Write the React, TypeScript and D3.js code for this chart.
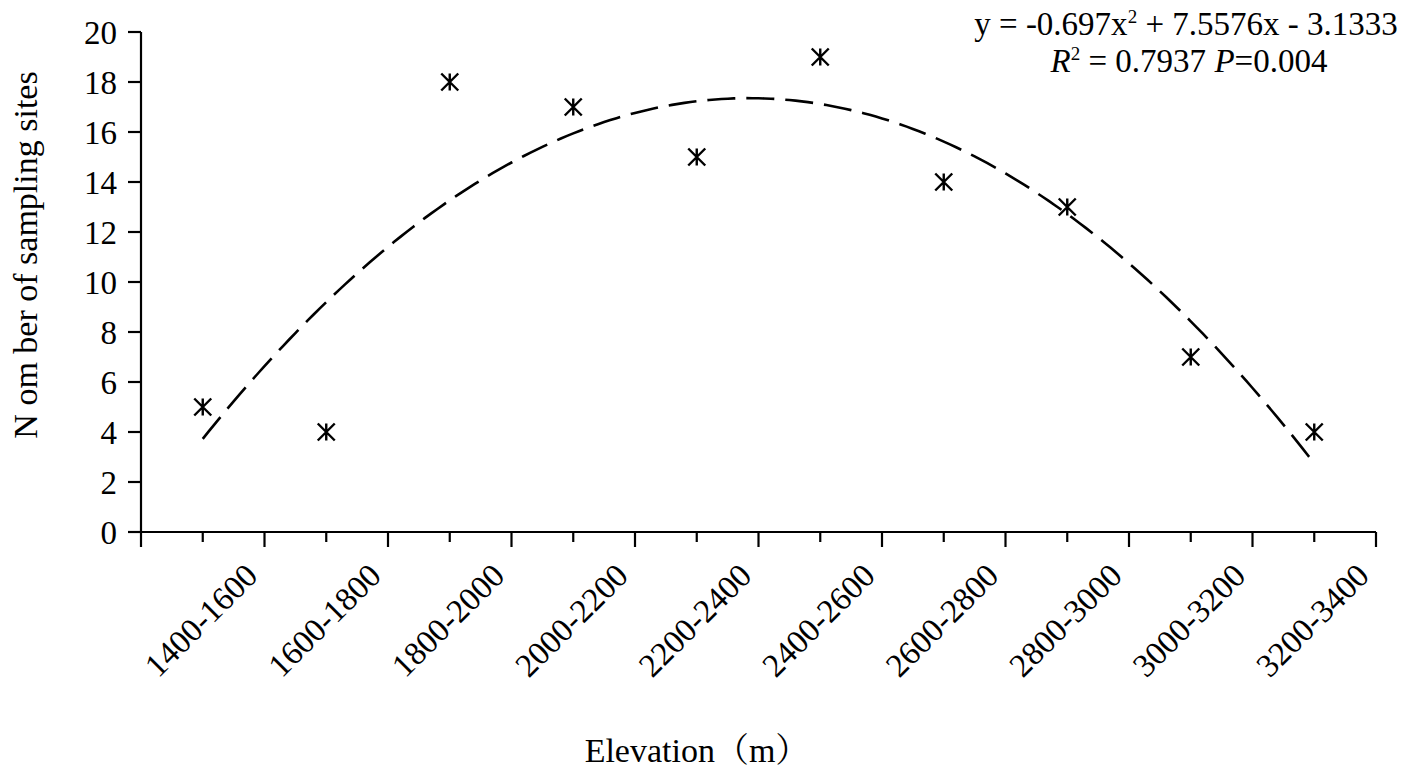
import React, { useEffect, useRef } from 'react';
import * as d3 from 'd3';

// Elevation bands (m) and the number of sampling sites in each
const categories = [
  '1400-1600', '1600-1800', '1800-2000', '2000-2200', '2200-2400',
  '2400-2600', '2600-2800', '2800-3000', '3000-3200', '3200-3400',
];
const sites = [5, 4, 18, 17, 15, 19, 14, 13, 7, 4];
const yTicks = [0, 2, 4, 6, 8, 10, 12, 14, 16, 18, 20];
// quadratic trendline y = a x^2 + b x + c (x = band index, 1..10)
const trendCoef = [-0.697, 7.5576, -3.1333];

const FONT = "'Liberation Serif', 'Times New Roman', 'Noto Serif CJK SC', 'Noto Sans CJK SC', serif";

const App = () => {
  const svgRef = useRef<SVGSVGElement | null>(null);

  useEffect(() => {
    if (!svgRef.current) return;
    const svg = d3.select(svgRef.current);
    svg.selectAll('*').remove();

    const width = 1418;
    const height = 775;
    const left = 141, right = 1376, top = 32, bottom = 532;

    const x = d3.scaleLinear().domain([0.5, categories.length + 0.5]).range([left, right]);
    const y = d3.scaleLinear().domain([0, 20]).range([bottom, top]);

    svg.attr('width', width).attr('height', height);
    svg.append('rect').attr('width', width).attr('height', height).attr('fill', '#fff');

    const g = svg.append('g').attr('font-family', FONT).attr('fill', '#000');

    // y axis
    g.append('line')
      .attr('x1', left).attr('x2', left)
      .attr('y1', top).attr('y2', bottom)
      .attr('stroke', '#000').attr('stroke-width', 2.2);
    g.append('g')
      .selectAll('line')
      .data(yTicks)
      .join('line')
      .attr('x1', left - 13).attr('x2', left)
      .attr('y1', d => y(d)).attr('y2', d => y(d))
      .attr('stroke', '#000').attr('stroke-width', 2.2);
    g.append('g')
      .selectAll('text')
      .data(yTicks)
      .join('text')
      .attr('x', left - 24)
      .attr('y', d => y(d))
      .attr('dy', '0.35em')
      .attr('text-anchor', 'end')
      .attr('font-size', 33)
      .text(d => d);

    // x axis
    g.append('line')
      .attr('x1', left).attr('x2', right)
      .attr('y1', bottom).attr('y2', bottom)
      .attr('stroke', '#000').attr('stroke-width', 2.2);
    const xTickVals = d3.range(0, categories.length * 2 + 1).map(i => 0.5 + i / 2);
    g.append('g')
      .selectAll('line')
      .data(xTickVals)
      .join('line')
      .attr('x1', d => x(d)).attr('x2', d => x(d))
      .attr('y1', bottom)
      .attr('y2', d => (Number.isInteger(d) ? bottom + 10 : bottom + 15))
      .attr('stroke', '#000').attr('stroke-width', 2.2);
    g.append('g')
      .selectAll('text')
      .data(categories)
      .join('text')
      .attr('transform', (d, i) => `translate(${x(i + 1) - 2},${620}) rotate(-45)`)
      .attr('text-anchor', 'middle')
      .attr('dy', '0.35em')
      .attr('font-size', 33)
      .text(d => d);

    // axis titles
    g.append('text')
      .attr('x', 697)
      .attr('y', 762)
      .attr('text-anchor', 'middle')
      .attr('font-size', 34)
      .text('Elevation（m）');
    g.append('text')
      .attr('transform', `translate(37,${255}) rotate(-90)`)
      .attr('text-anchor', 'middle')
      .attr('font-size', 34)
      .text('N om ber of sampling sites');

    // trendline
    const [a, b, c] = trendCoef;
    const curveX = d3.range(1, categories.length + 0.001, 0.05);
    const line = d3.line<number>()
      .x(d => x(d))
      .y(d => y(a * d * d + b * d + c));
    g.append('path')
      .datum(curveX)
      .attr('d', line)
      .attr('fill', 'none')
      .attr('stroke', '#000')
      .attr('stroke-width', 2.6)
      .attr('stroke-dasharray', '28 11');

    // star markers
    const r = 8.5;
    const star = `M${-r},${-r}L${r},${r}M${-r},${r}L${r},${-r}M0,${-r}L0,${r}`;
    g.append('g')
      .selectAll('path')
      .data(sites)
      .join('path')
      .attr('transform', (d, i) => `translate(${x(i + 1)},${y(d)})`)
      .attr('d', star)
      .attr('fill', 'none')
      .attr('stroke', '#000')
      .attr('stroke-width', 2.4);

    // equation
    const eq = g.append('text')
      .attr('x', 1186).attr('y', 35)
      .attr('text-anchor', 'middle')
      .attr('font-size', 33);
    eq.append('tspan').text('y = -0.697x');
    eq.append('tspan').attr('font-size', 19).attr('dy', -12).text('2');
    eq.append('tspan').attr('dy', 12).text(' + 7.5576x - 3.1333');

    const r2 = g.append('text')
      .attr('x', 1189).attr('y', 72)
      .attr('text-anchor', 'middle')
      .attr('font-size', 33);
    r2.append('tspan').attr('font-style', 'italic').text('R');
    r2.append('tspan').attr('font-size', 19).attr('dy', -12).text('2');
    r2.append('tspan').attr('dy', 12).text(' = 0.7937 ');
    r2.append('tspan').attr('font-style', 'italic').text('P');
    r2.append('tspan').text('=0.004');
  }, []);

  return (
    <svg ref={svgRef} style={{ position: 'absolute', left: 0, top: 0, display: 'block' }}></svg>
  );
};

export default App;
